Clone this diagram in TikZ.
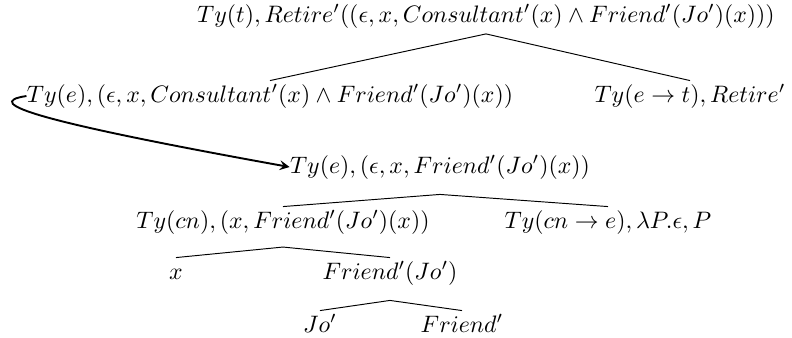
\documentclass[tikz,border=0pt]{standalone}
\usepackage{amsmath, amssymb}
\usepackage{tikz}
\usetikzlibrary{positioning}

\begin{document}
\begin{tikzpicture}[x=0.42pt, y=-0.42pt, tree/.style={anchor=base, inner sep=0pt}]
    \useasboundingbox (0,0) rectangle (792,338);

    % Draw the nodes of the tree, row by row
    \node[tree] (root) at (486,22) {$Ty(t), Retire'((\epsilon, x, Consultant'(x) \wedge Friend'(Jo')(x)))$};
    \node[tree] (L) at (270,102) {$Ty(e), (\epsilon, x, Consultant'(x) \wedge Friend'(Jo')(x))$};
    \node[tree] (R) at (690,102) {$Ty(e \rightarrow t), Retire'$};
    \node[tree] (M) at (440,173) {$Ty(e), (\epsilon, x, Friend'(Jo')(x))$};
    \node[tree] (CN) at (283,228) {$Ty(cn), (x, Friend'(Jo')(x))$};
    \node[tree] (CNE) at (608,228) {$Ty(cn \rightarrow e), \lambda P.\epsilon, P$};
    \node[tree] (X) at (176,279) {$x$};
    \node[tree] (FJ) at (390,279) {$Friend'(Jo')$};
    \node[tree] (JO) at (320,332) {$Jo'$};
    \node[tree] (FR) at (462,332) {$Friend'$};

    % Draw the branches
    \foreach \p/\c/\s in {root/L/5, root/R/5, M/CN/9, M/CNE/9, CN/X/8, CN/FJ/8, FJ/JO/9, FJ/FR/9} {
      \draw ([yshift=-\s pt]\p.base) -- ([yshift=9pt]\c.base);
    }

    % Link from the term to its restrictor tree
    \draw[->, >=stealth, thick] (L.west) .. controls (-20,103) and (40,122) .. (M.west);
\end{tikzpicture}
\end{document}
